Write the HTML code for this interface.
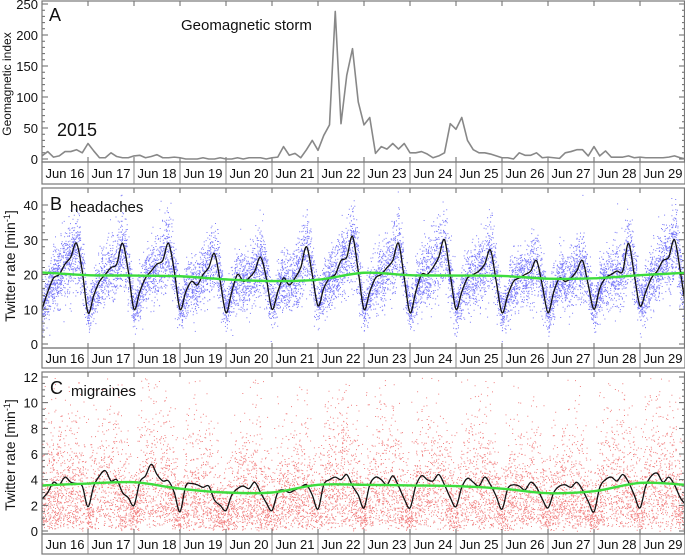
<!DOCTYPE html>
<html><head><meta charset="utf-8"><style>
html,body{margin:0;padding:0;background:#fff;}
svg{display:block;font-family:"Liberation Sans",sans-serif;}
</style></head><body>
<svg id="chart" width="685" height="555" viewBox="0 0 685 555" xmlns="http://www.w3.org/2000/svg"></svg>
<script>
const dayLabels=["Jun 16","Jun 17","Jun 18","Jun 19","Jun 20","Jun 21","Jun 22","Jun 23","Jun 24","Jun 25","Jun 26","Jun 27","Jun 28","Jun 29"];
const geoTicks=[0,50,100,150,200,250];
const headTicks=[0,10,20,30,40];
const migTicks=[0,2,4,6,8,10,12];
const geoValues=[5,12,3,5,12,12,15,10, 25,13,2,2,10,4,2,2, 5,6,2,4,7,2,2,3, 2,0,0,0,2,0,0,2, 0,0,2,0,2,2,2,0, 2,3,20,6,9,2,15,30, 14,38,55,238,57,135,178,92, 55,67,9,20,16,25,16,25, 10,10,12,8,2,5,10,57, 48,67,30,15,10,10,8,5, 2,2,0,10,6,6,10,2, 3,2,1,10,12,15,15,5, 20,5,13,3,3,3,5,2, 3,2,2,2,2,3,5,2, 0];
const headMean=[10,15,19,20,23,25,29,21, 9,14,18,20,22,23,29,21, 10,15,19,21,23,24,29,21, 10,15,18,17,20,22,26,18, 9,15,20,18,19,21,25,19, 10,15,19,17,19,22,28,20, 11,16,19,20,24,25,31,21, 10,15,19,20,22,24,29,19, 9,15,20,20,22,25,30,20, 10,15,19,20,21,23,27,18, 9,14,18,19,20,21,24,17, 9,15,19,18,19,21,24,17, 10,16,19,20,21,21,29,20, 11,15,19,21,24,25,30,21, 10];
const headTrend=[20.6,19.8,19.7,19.5,18.6,18.1,18.5,20.5,19.8,19.7,19.6,18.8,18.9,19.8,20.5];
const migMean=[2.5,3.0,3.8,3.6,4.2,3.8,3.7,3.5, 1.9,3.5,4.3,4.7,3.9,4.0,3.0,2.6, 2.0,3.8,4.3,5.2,4.4,3.9,3.9,3.0, 1.5,3.5,3.7,3.6,3.4,3.5,2.4,2.0, 1.6,2.8,3.3,3.5,3.3,3.8,3.0,2.2, 1.6,3.0,3.2,3.0,3.2,3.4,3.6,2.8, 1.7,3.6,4.0,4.2,4.0,4.4,3.5,2.8, 1.8,3.6,4.2,4.0,3.6,4.3,3.5,2.5, 1.8,3.5,4.3,4.0,3.9,4.4,3.6,2.6, 1.9,3.4,4.1,3.8,3.5,4.2,3.6,2.7, 1.7,3.3,3.6,3.5,3.2,3.8,3.4,2.5, 1.8,3.0,3.5,3.6,3.4,3.8,3.2,2.3, 1.5,3.4,4.0,4.2,3.9,4.4,3.8,2.8, 1.8,3.5,4.3,4.5,3.8,4.2,3.6,2.6, 2.0];
const migTrend=[3.55,3.7,3.8,3.3,3.0,3.0,3.6,3.6,3.55,3.5,3.3,2.95,3.1,3.75,3.6];

const NS="http://www.w3.org/2000/svg";
const svg=document.getElementById('chart');
const X0=42, DW=46;
function xDay(t){return X0+DW*t;}
function mk(tag,attrs,parent){const e=document.createElementNS(NS,tag);for(const k in attrs)e.setAttribute(k,attrs[k]);(parent||svg).appendChild(e);return e;}
let seed=12345;
function rnd(){seed=(seed*1103515245+12345)%2147483648;return (seed+0.5)/2147483648;}
function gauss(){return Math.sqrt(-2*Math.log(rnd()))*Math.cos(2*Math.PI*rnd());}
function interp(arr,t,perDay){const f=t*perDay;const i=Math.min(Math.floor(f),arr.length-2);const r=f-i;return arr[i]*(1-r)+arr[i+1]*r;}

const panels=[
 {key:'a',top:1,bot:162,y0:159,y1:4,vmax:250,ticks:geoTicks,minor:10,strip:184},
 {key:'b',top:188,bot:348,y0:344,y1:205,vmax:40,ticks:headTicks,minor:2,strip:368},
 {key:'c',top:372,bot:534,y0:531,y1:377,vmax:12,ticks:migTicks,minor:0.5,strip:554}
];
panels.forEach(p=>{p.y=v=>p.y0+(p.y1-p.y0)*v/p.vmax;});

function drawFrame(p,name){
  const g=mk('g',{});
  
  
  let d='';
  for(let v=0;v<=p.vmax+1e-9;v+=p.minor){const y=p.y(v);if(y<p.top)continue;d+=`M${X0} ${y}h3M685 ${y}h-3`;}
  p.ticks.forEach(v=>{const y=p.y(v);d+=`M${X0} ${y}h6M685 ${y}h-6`;});
  for(let i=1;i<14;i++){const x=xDay(i);d+=`M${x} ${p.top}v5M${x} ${p.bot}v-5`;}
  mk('path',{d:d,stroke:'#666','stroke-width':1,fill:'none'},g);
  p.ticks.forEach(v=>{const t=mk('text',{x:38,y:p.y(v)+5,'text-anchor':'end','font-size':13,fill:'#111'},g);t.textContent=v;
    });
  const s=mk('g',{});
  
  
  mk('rect',{x:X0,y:p.bot,width:685-X0,height:p.strip-p.bot,fill:'none',stroke:'#777','stroke-width':1.2},s);
  for(let i=0;i<14;i++){
    if(i>0)mk('line',{x1:xDay(i),x2:xDay(i),y1:p.bot,y2:p.strip,stroke:'#888','stroke-width':1},s);
    const t=mk('text',{x:xDay(i)+DW/2,y:(p.bot+p.strip)/2+5,'text-anchor':'middle','font-size':13,fill:'#111'},s);
    t.textContent=dayLabels[i];
    
    
  }
}
function frameBox(p,name){
  const r=mk('rect',{x:X0,y:p.top,width:685-X0-0.5,height:p.bot-p.top,fill:'none',stroke:'#777','stroke-width':1.2});
  
  
}
function linePath(arr,perDay,p){return arr.map((v,i)=>(i?'L':'M')+xDay(i/perDay).toFixed(2)+' '+p.y(v).toFixed(2)).join('');}
function smoothPath(arr,perDay,p){
  const pts=arr.map((v,i)=>[xDay(i/perDay),p.y(v)]);
  let d='M'+pts[0][0].toFixed(2)+' '+pts[0][1].toFixed(2);
  for(let i=0;i<pts.length-1;i++){
    const p0=pts[Math.max(i-1,0)],p1=pts[i],p2=pts[i+1],p3=pts[Math.min(i+2,pts.length-1)];
    const c1=[p1[0]+(p2[0]-p0[0])/6,p1[1]+(p2[1]-p0[1])/6];
    const c2=[p2[0]-(p3[0]-p1[0])/6,p2[1]-(p3[1]-p1[1])/6];
    d+=`C${c1[0].toFixed(2)} ${c1[1].toFixed(2)} ${c2[0].toFixed(2)} ${c2[1].toFixed(2)} ${p2[0].toFixed(2)} ${p2[1].toFixed(2)}`;
  }
  return d;
}

// Panel A
const pa=panels[0];
drawFrame(pa,'panel-a');
const la=mk('path',{d:linePath(geoValues,8,pa),stroke:'#888','stroke-width':1.6,fill:'none','stroke-linejoin':'round'});


frameBox(pa,'panel-a');

// Panel B
const pb=panels[1];
let db='';
for(let k=0;k<12000;k++){const t=rnd()*14;const m=interp(headMean,t,8);let v=m+gauss()*(0.14*m+1.6);if(v<0)v=Math.abs(v);if(v>44)continue;
  db+=`M${xDay(t).toFixed(1)} ${pb.y(v).toFixed(1)}h1v1h-1z`;}
const dotsB=mk('path',{d:db,fill:'#1e1ef5','fill-opacity':0.6});


drawFrame(pb,'panel-b');
const lb=mk('path',{d:smoothPath(headMean,8,pb),stroke:'#111','stroke-width':1.3,fill:'none'});


const tb=mk('path',{d:smoothPath(headTrend,1,pb),stroke:'#3ddc3d','stroke-width':2.4,fill:'none'});


frameBox(pb,'panel-b');

// Panel C
const pc=panels[2];
let dc='';
for(let k=0;k<10000;k++){const t=rnd()*14;const m=interp(migMean,t,8);let v=m*(-Math.log(rnd()*rnd()))/2;if(v>12)continue;
  dc+=`M${xDay(t).toFixed(1)} ${pc.y(v).toFixed(1)}h1v1h-1z`;}
const dotsC=mk('path',{d:dc,fill:'#e82a2a','fill-opacity':0.6});


drawFrame(pc,'panel-c');
const lc=mk('path',{d:smoothPath(migMean,8,pc),stroke:'#111','stroke-width':1.3,fill:'none'});


const tc=mk('path',{d:smoothPath(migTrend,1,pc),stroke:'#3ddc3d','stroke-width':2.4,fill:'none'});


frameBox(pc,'panel-c');

function txt(s,attrs,name){const t=mk('text',attrs);t.textContent=s;return t;}
txt('A',{x:49,y:21,'font-size':18,fill:'#111'},'panel-a-label');
txt('Geomagnetic storm',{x:181,y:30,'font-size':15,fill:'#111'},'storm-annotation');
txt('2015',{x:57,y:136,'font-size':18,fill:'#111'},'year-label');
txt('B',{x:50,y:210,'font-size':18,fill:'#111'},'panel-b-label');
txt('headaches',{x:70,y:212,'font-size':15,fill:'#111'},'headaches-title');
txt('C',{x:50,y:394,'font-size':18,fill:'#111'},'panel-c-label');
txt('migraines',{x:71,y:396,'font-size':15,fill:'#111'},'migraines-title');
txt('Geomagnetic index',{x:0,y:0,'font-size':12,fill:'#111','text-anchor':'middle',transform:'translate(11,84) rotate(-90)'},'panel-a-y-axis-title');
const yb=txt('Twitter rate [min',{x:0,y:0,'font-size':14,fill:'#111','text-anchor':'middle',transform:'translate(15,266) rotate(-90)'},'panel-b-y-axis-title');
const sb=mk('tspan',{dy:-5,'font-size':9},yb);sb.textContent='-1';
const eb=mk('tspan',{dy:5},yb);eb.textContent=']';
const yc=txt('Twitter rate [min',{x:0,y:0,'font-size':14,fill:'#111','text-anchor':'middle',transform:'translate(15,455) rotate(-90)'},'panel-c-y-axis-title');
const sc=mk('tspan',{dy:-5,'font-size':9},yc);sc.textContent='-1';
const ec=mk('tspan',{dy:5},yc);ec.textContent=']';
</script>
</body></html>
